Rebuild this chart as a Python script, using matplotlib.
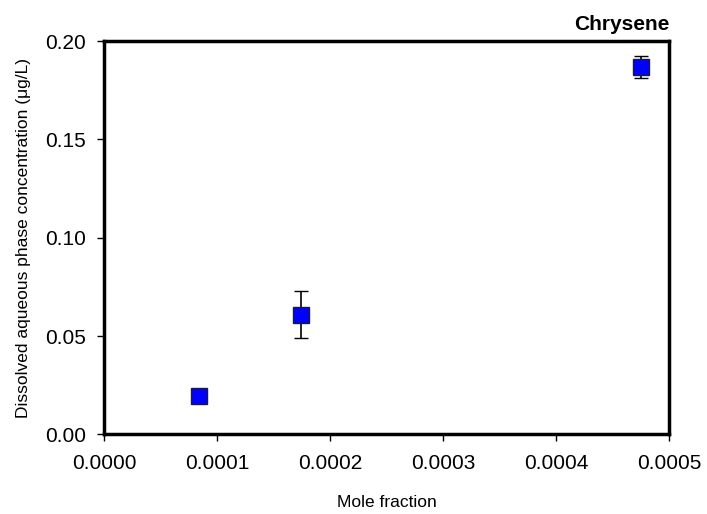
import matplotlib.pyplot as plt

plt.rcParams['font.family'] = ['Liberation Sans', 'DejaVu Sans']

# data
mole_fraction = [0.0000841, 0.000174, 0.000475]
concentration = [0.0196, 0.0608, 0.1868]
conc_err = [0.0, 0.012, 0.0058]

x_ticks = [0.0, 0.0001, 0.0002, 0.0003, 0.0004, 0.0005]
y_ticks = [0.0, 0.05, 0.10, 0.15, 0.20]

fig = plt.figure(figsize=(7.07, 5.14), dpi=100)
ax = fig.add_axes([0.1471, 0.155, 0.7992, 0.7652])

ax.errorbar(mole_fraction, concentration, yerr=conc_err, fmt='s',
            color='black', ecolor='black', elinewidth=1.2, capsize=5, capthick=1.2,
            markerfacecolor='#0000ff', markeredgecolor='#1a1a40', markeredgewidth=1.0,
            markersize=11, zorder=3)

ax.set_xlim(0, 0.0005)
ax.set_ylim(0, 0.2)
ax.set_xticks(x_ticks)
ax.set_xticklabels(['%.4f' % v for v in x_ticks])
ax.set_yticks(y_ticks)
ax.set_yticklabels(['%.2f' % v for v in y_ticks])
ax.tick_params(axis='both', direction='out', length=5, width=1, labelsize=15)
ax.tick_params(axis='x', pad=9)
ax.tick_params(axis='y', pad=8)

for side in ax.spines.values():
    side.set_linewidth(2.5)
    side.set_color('black')

ax.set_xlabel('Mole fraction', fontsize=12.5, labelpad=16)
ax.set_ylabel('Dissolved aqueous phase concentration (\u03bcg/L)', fontsize=12.5, labelpad=10)
ax.set_title('Chrysene', loc='right', fontsize=15, fontweight='bold', pad=8)

fig.savefig('out.png', dpi=100)
